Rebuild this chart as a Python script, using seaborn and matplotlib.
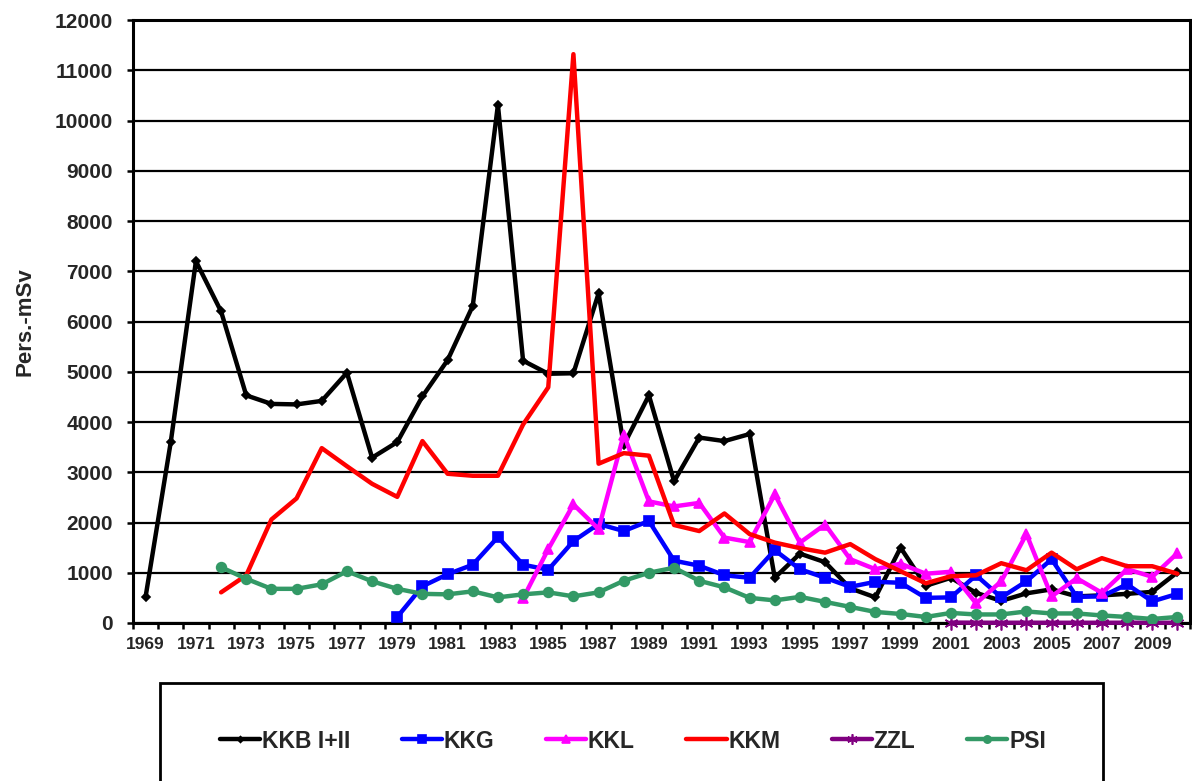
import matplotlib
matplotlib.use('Agg')
import matplotlib.pyplot as plt
import numpy as np
import pandas as pd
import seaborn as sns
from matplotlib.patches import Rectangle

# collective dose per plant, Pers.-mSv
years = list(range(1969, 2011))

kkb = [520, 3600, 7200, 6200, 4530, 4360, 4350, 4420, 4980, 3290,
       3600, 4510, 5230, 6310, 10310, 5220, 4960, 4970, 6560, 3540,
       4530, 2820, 3690, 3620, 3760, 900, 1380, 1210, 690, 510,
       1500, 740, 900, 600, 440, 590, 670, 530, 550, 580,
       620, 1010]
kkg = [120, 730, 970, 1160, 1710, 1160, 1060, 1630, 1970, 1830,
       2030, 1240, 1140, 950, 900, 1450, 1070, 900, 720, 820,
       800, 500, 510, 950, 510, 830, 1270, 520, 530, 770,
       430, 580]
kkl = [490, 1470, 2360, 1870, 3750, 2420, 2320, 2390, 1700, 1610,
       2560, 1600, 1960, 1270, 1070, 1180, 980, 1020, 390, 830,
       1770, 530, 890, 600, 1070, 920, 1390]
kkm = [610, 950, 2060, 2480, 3480, 3120, 2770, 2510, 3620, 2970,
       2930, 2930, 3950, 4690, 11320, 3170, 3380, 3330, 1950, 1830,
       2180, 1770, 1600, 1490, 1400, 1570, 1270, 1030, 790, 930,
       950, 1190, 1050, 1400, 1070, 1290, 1130, 1130, 980]
zzl = [8, 6, 5, 6, 5, 5, 5, 6, 5, 5]
psi = [1110, 880, 680, 680, 770, 1030, 830, 680, 580, 570,
       630, 510, 570, 610, 530, 610, 840, 1000, 1100, 840,
       710, 500, 450, 520, 420, 320, 220, 180, 120, 200,
       170, 170, 230, 190, 190, 150, 120, 80, 120]

names = ['KKB I+II', 'KKG', 'KKL', 'KKM', 'ZZL', 'PSI']
series = [kkb, kkg, kkl, kkm, zzl, psi]

# series end in 2010, so the first year follows from the length
frames = []
for name, vals in zip(names, series):
    frames.append(pd.DataFrame({'year': years[len(years) - len(vals):],
                                'dose': vals, 'plant': name}))
df = pd.concat(frames, ignore_index=True)

styles = {
    'KKB I+II': dict(color='black', marker='D', markersize=4),
    'KKG': dict(color='#0000FF', marker='s', markersize=7),
    'KKL': dict(color='#FF00FF', marker='^', markersize=7),
    'KKM': dict(color='#FF0000', marker=None, markersize=0),
    'ZZL': dict(color='#800080', marker=(6, 2, 0), markersize=10),
    'PSI': dict(color='#339966', marker='o', markersize=7),
}

sns.set_style('white')
plt.rcParams['font.family'] = ['Liberation Sans', 'DejaVu Sans']
plt.rcParams['font.weight'] = 'bold'

fig = plt.figure(figsize=(11.92, 7.81), dpi=100)
ax = fig.add_axes([133 / 1192, 1 - 623 / 781, 1057 / 1192, 603 / 781])

for name in names:
    st = styles[name]
    sns.lineplot(data=df[df.plant == name], x='year', y='dose', ax=ax,
                 color=st['color'], marker=st['marker'], markersize=st['markersize'],
                 markeredgecolor=st['color'], markeredgewidth=1.2,
                 linewidth=3.2, label=name, zorder=3,
                 clip_on=(name != 'ZZL'))

ax.set_xlim(1968.5, 2010.5)
ax.set_ylim(0, 12000)
ax.set_yticks(np.arange(0, 12001, 1000))
ax.yaxis.grid(True, color='black', linewidth=1.6, zorder=0)
ax.set_axisbelow(True)

# ticks between the years, labels on odd years
ax.set_xticks(np.arange(1968.5, 2011, 1))
ax.set_xticklabels([])
ax.set_xticks([y for y in years if y % 2 == 1], minor=True)
ax.set_xticklabels([str(y) for y in years if y % 2 == 1], minor=True,
                   fontsize=12.5, fontweight='bold')
ax.tick_params(axis='x', which='major', direction='out', length=4.5, width=1.8,
               color='black', bottom=True)
ax.tick_params(axis='x', which='minor', length=0, pad=10)
ax.tick_params(axis='y', direction='out', length=4.5, width=1.8, color='black',
               left=True, labelsize=15, pad=10)
for lab in ax.get_yticklabels():
    lab.set_fontweight('bold')

for sp in ax.spines.values():
    sp.set_color('black')
    sp.set_linewidth(2.2)

ax.set_xlabel('')
ax.set_ylabel('Pers.-mSv', fontsize=16, fontweight='bold', labelpad=14)

# legend in a box under the chart
handles, labels = ax.get_legend_handles_labels()
ax.get_legend().remove()
fig.patches.append(Rectangle((160 / 1192, -0.02), 943 / 1192, 0.02 + 1 - 683 / 781,
                             transform=fig.transFigure, fill=False,
                             edgecolor='black', linewidth=2))
fig.legend(handles, labels, loc='center', bbox_to_anchor=(0.531, 1 - 741 / 781),
           ncol=6, frameon=False, handlelength=1.75, markerscale=0.75,
           handletextpad=0.08, columnspacing=2.25,
           prop={'weight': 'bold', 'size': 16.5})

plt.savefig('out.png', dpi=100)
plt.close()
